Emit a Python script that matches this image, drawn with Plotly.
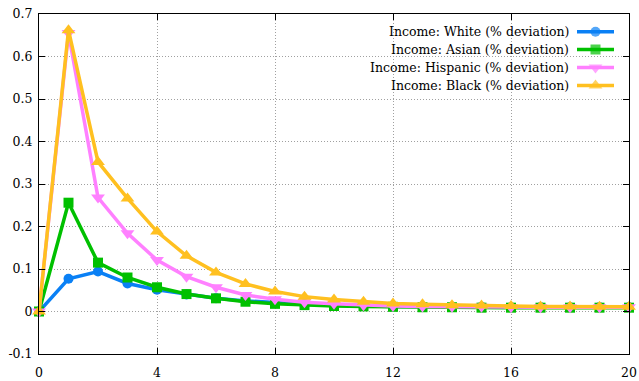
import plotly.graph_objects as go

periods = list(range(21))
white = [0, 0.077, 0.094, 0.066, 0.051, 0.040, 0.031, 0.025, 0.020, 0.017, 0.015,
         0.013, 0.012, 0.012, 0.011, 0.011, 0.010, 0.010, 0.010, 0.010, 0.010]
asian = [0, 0.256, 0.115, 0.080, 0.057, 0.041, 0.031, 0.023, 0.018, 0.015, 0.013,
         0.012, 0.011, 0.010, 0.010, 0.009, 0.009, 0.009, 0.009, 0.009, 0.009]
hispanic = [0, 0.655, 0.268, 0.184, 0.121, 0.082, 0.057, 0.039, 0.029, 0.022, 0.018,
            0.015, 0.013, 0.012, 0.011, 0.011, 0.010, 0.010, 0.010, 0.010, 0.010]
black = [0, 0.662, 0.352, 0.266, 0.188, 0.131, 0.092, 0.065, 0.047, 0.035, 0.028,
         0.023, 0.019, 0.017, 0.015, 0.014, 0.013, 0.012, 0.012, 0.011, 0.011]

series_names = ["Income: White (% deviation)", "Income: Asian (% deviation)",
                "Income: Hispanic (% deviation)", "Income: Black (% deviation)"]
series_values = [white, asian, hispanic, black]
colors = ["#0a80f5", "#00c000", "#ff80ff", "#ffc020"]
symbols = ["circle", "square", "triangle-down", "triangle-up"]
msizes = [10, 10, 12, 12]

x_ticks = [0, 4, 8, 12, 16, 20]
y_ticks = [-0.1, 0, 0.1, 0.2, 0.3, 0.4, 0.5, 0.6, 0.7]
y_ticklabels = ["-0.1", "0", "0.1", "0.2", "0.3", "0.4", "0.5", "0.6", "0.7"]

FONT = "DejaVu Serif"
FS = 12.5
W, H = 639, 381
L, R, T, B = 39, 10, 14, 27
pw, ph = W - L - R, H - T - B

fig = go.Figure()
for name, vals, c, s, ms in zip(series_names, series_values, colors, symbols, msizes):
    fig.add_trace(go.Scatter(
        x=periods, y=vals, mode="lines+markers", name=name,
        line=dict(color=c, width=3.5),
        marker=dict(symbol=s, size=ms, color=c, line=dict(width=0)),
        showlegend=False, cliponaxis=False))

# custom legend (text on left, sample on right, like gnuplot)
row_y = [31.7, 49.5, 67.5, 85.5]
text_right = 571
samp_x0, samp_x1 = 577, 614
for name, c, s, ms, ry in zip(series_names, colors, symbols, msizes, row_y):
    yp = (H - B - ry) / ph
    fig.add_annotation(xref="paper", yref="paper", x=(text_right - L) / pw, y=yp,
                       text=name, showarrow=False, xanchor="right", yanchor="middle",
                       font=dict(family=FONT, size=FS, color="black"))
    fig.add_trace(go.Scatter(
        x=[(samp_x0 - L) / pw, ((samp_x0 + samp_x1) / 2 - L) / pw, (samp_x1 - L) / pw],
        y=[yp, yp, yp], xaxis="x2", yaxis="y2", mode="lines+markers",
        line=dict(color=c, width=3.5),
        marker=dict(symbol=s, size=[0, ms, 0], color=c, line=dict(width=0)),
        showlegend=False, hoverinfo="skip", cliponaxis=False))

axis_common = dict(showline=True, linecolor="black", linewidth=1, mirror="ticks",
                   ticks="inside", ticklen=6, tickcolor="black", tickwidth=1,
                   showgrid=True, gridcolor="#a0a0a0", gridwidth=1, griddash="1px,2px",
                   zeroline=False, automargin=False,
                   tickfont=dict(family=FONT, size=FS, color="black"))

fig.update_layout(
    width=W, height=H,
    margin=dict(l=L, r=R, t=T, b=B, autoexpand=False),
    paper_bgcolor="white", plot_bgcolor="white",
    font=dict(family=FONT, size=FS, color="black"),
    showlegend=False,
    xaxis=dict(range=[0, 20], tickvals=x_ticks, ticklabelstandoff=7, **axis_common),
    yaxis=dict(range=[-0.1, 0.7], tickvals=y_ticks, ticktext=y_ticklabels,
               ticklabelstandoff=3, **axis_common),
    xaxis2=dict(range=[0, 1], overlaying="x", visible=False, fixedrange=True),
    yaxis2=dict(range=[0, 1], overlaying="y", visible=False, fixedrange=True),
)

fig.write_html("out.html")
